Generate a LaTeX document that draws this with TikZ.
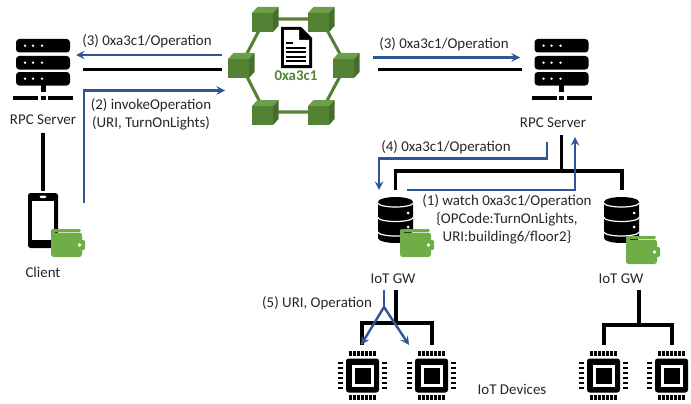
\documentclass[tikz,border=0pt]{standalone}
\usepackage{fontspec}
\setmainfont{Carlito}
\definecolor{arrowblue}{HTML}{2F5597}
\definecolor{cubegreen}{HTML}{548235}
\definecolor{cubetop}{HTML}{6B9F4A}
\definecolor{cubeside}{HTML}{466D2C}
\definecolor{walletgreen}{HTML}{70AD47}
\definecolor{labelgray}{HTML}{262626}
\tikzset{>=stealth}
\tikzset{
  label/.style={text=labelgray, font=\fontsize{11.2}{13.4}\selectfont, inner sep=0pt, align=center},
  wire/.style={line width=2.3pt, black},
  blueline/.style={line width=1.8pt, arrowblue},
  ringline/.style={line width=2.3pt, cubegreen},
  server/.pic={
    \foreach \y in {39,56,72} {
      \fill[black, rounded corners=2.5] (-27,\y) rectangle (27,\y+13.5);
      \foreach \x in {-18,-10,-1} \fill[white] (\x,\y+6.7) circle (1.3);
    }
    \fill[black] (-2.5,85) rectangle (2.5,92);
    \fill[black] (-30,95.5) rectangle (-5,100);
    \fill[black] (-2.5,95.5) rectangle (2.5,100);
    \fill[black] (5,95.5) rectangle (30,100);
  },
  wallet/.pic={
    \fill[walletgreen, rounded corners=2] (0,3.6) rectangle (31,28);
    \fill[walletgreen, rounded corners=1] (0,0) rectangle (30,2.8);
    \fill[walletgreen] (0,1) rectangle (4,6);
    \fill[walletgreen, rounded corners=1] (29,11) rectangle (34,21);
    \fill[white] (28.5,16) circle (1.8);
  },
  database/.pic={
    \fill[black] (-17.5,5) arc[start angle=180, end angle=360, x radius=17.5, y radius=5]
      -- (17.5,41) arc[start angle=0, end angle=180, x radius=17.5, y radius=5] -- cycle;
    \foreach \y in {6,20.5,35} \draw[white, line width=0.9pt] (-17.5,\y) arc[start angle=180, end angle=0, x radius=17.5, y radius=4];
    \foreach \y in {16,30} \fill[white] (12.5,\y) circle (1.5);
  },
  chip/.pic={
    \fill[black, rounded corners=2] (-16.5,-17) rectangle (16.5,17);
    \fill[white] (-11,-11) rectangle (11,11);
    \fill[black] (-8,-8) rectangle (8,8);
    \foreach \p in {-12,-8,-4,0,4,8,12} {
      \fill[black] (\p-1.3,-24.5) rectangle (\p+1.3,-19.5);
      \fill[black] (\p-1.3,19.5) rectangle (\p+1.3,24.5);
    }
    \foreach \p in {-12.5,-7.5,-2.5,2.5,7.5,12.5} {
      \fill[black] (-24.5,\p-1.4) rectangle (-19.5,\p+1.4);
      \fill[black] (19.5,\p-1.4) rectangle (24.5,\p+1.4);
    }
  },
  cube/.pic={
    \fill[cubegreen] (-13,-6) rectangle (8,13);
    \fill[cubetop] (-13,-6) -- (-7.5,-12) -- (13.5,-12) -- (8,-6) -- cycle;
    \fill[cubeside] (8,-6) -- (13.5,-12) -- (13.5,7) -- (8,13) -- cycle;
  },
}

\begin{document}
\begin{tikzpicture}[x=0.75pt, y=-0.75pt]
\useasboundingbox (0,0) rectangle (691,403);

% ledger ring
\coordinate (tl) at (265,19);
\coordinate (tr) at (321,19);
\coordinate (rr) at (346,65);
\coordinate (br) at (321,112);
\coordinate (bl) at (265,112);
\coordinate (ll) at (241,65);
\draw[ringline] (tl) -- (tr) -- (rr) -- (br) -- (bl) -- (ll) -- cycle;
\foreach \c in {tl,tr,rr,br,bl,ll} \pic at (\c) {cube};

% contract document
\fill[black] (281,27) -- (301,27) -- (312,38) -- (312,68) -- (281,68) -- cycle;
\fill[white] (284,30) -- (299,30) -- (299,40) -- (309,40) -- (309,65) -- (284,65) -- cycle;
\fill[black] (301,30) -- (309,38) -- (301,38) -- cycle;
\fill[black] (286,42) rectangle (293,44);
\foreach \y in {47,51.5,56,60} \fill[black] (286,\y) rectangle (306,\y+2);
\node[label, text=cubegreen, font=\fontsize{11.2}{13.4}\selectfont\bfseries] (addr) at (296,76) {0xa3c1};

% icons
\pic at (43,0) {server};
\pic at (561.5,0) {server};
\node[label] (rpcL) at (43,120) {RPC Server};
\node[label] (rpcR) at (553,123) {RPC Server};

% phone
\fill[black, rounded corners=2] (28,193) rectangle (58,248);
\fill[white] (32,201) rectangle (54,240);
\fill[white, rounded corners=1] (39.5,195.5) rectangle (46.5,198);
\pic at (51,229) {wallet};
\node[label] (client) at (43,272) {Client};

% gateways
\pic at (395.5,197) {database};
\pic at (621.5,197) {database};
\pic at (400,229) {wallet};
\pic at (626,236) {wallet};
\node[label] (gwL) at (393,279) {IoT GW};
\node[label] (gwR) at (621,279) {IoT GW};

% devices
\foreach \x in {362.5,431.5,603.5,671.5} \pic at (\x,375.5) {chip};
\node[label] (devices) at (512,389) {IoT Devices};

% black links
\coordinate (a1) at (43,133);
\coordinate (a2) at (43,191);
\draw[wire] (a1) -- (a2);
\coordinate (b1) at (83,69.5);
\coordinate (b2) at (222,69.5);
\draw[wire] (b1) -- (b2);
\coordinate (c1) at (378,69.5);
\coordinate (c2) at (522,69.5);
\draw[wire] (c1) -- (c2);
\coordinate (d1) at (561.5,135);
\coordinate (d2) at (561.5,171);
\coordinate (d3) at (395.5,190);
\coordinate (d4) at (622,190);
\draw[wire] (d1) -- (d2);
\draw[wire] (d3) -- (395.5,171) -- (622,171) -- (d4);
\coordinate (e1) at (396,290);
\coordinate (e2) at (396,323);
\coordinate (e3) at (362,345);
\coordinate (e4) at (432,345);
\draw[wire] (e1) -- (e2);
\draw[wire] (e3) -- (362,323) -- (432,323) -- (e4);
\coordinate (f1) at (639,290);
\coordinate (f2) at (639,325);
\coordinate (f3) at (604,345);
\coordinate (f4) at (672,345);
\draw[wire] (f1) -- (f2);
\draw[wire] (f3) -- (604,325) -- (672,325) -- (f4);

% blue messages
\coordinate (g1) at (222,55);
\coordinate (g2) at (76,55);
\draw[blueline, ->] (g1) -- (g2);
\node[label] (msgA) at (147,41) {(3) 0xa3c1/Operation};
\coordinate (h1) at (84,203);
\coordinate (h2) at (225,90.5);
\draw[blueline, ->] (h1) -- (84,90.5) -- (h2);
\node[label] (msgB) at (151,114) {(2) invokeOperation\\(URI, TurnOnLights)};
\coordinate (i1) at (373,57.5);
\coordinate (i2) at (520,57.5);
\draw[blueline, ->] (i1) -- (i2);
\node[label] (msgC) at (444,44) {(3) 0xa3c1/Operation};
\coordinate (j1) at (547,142);
\coordinate (j2) at (379,190);
\draw[blueline, ->] (j1) -- (547,158.5) -- (379,158.5) -- (j2);
\node[label] (msgD) at (446,147) {(4) 0xa3c1/Operation};
\coordinate (k1) at (407,190);
\coordinate (k2) at (575,137);
\draw[blueline, ->] (k1) -- (575,190) -- (k2);
\node[label] (msgE) at (507,219.5) {(1) watch 0xa3c1/Operation\\\{OPCode:TurnOnLights,\\URI:building6/floor2\}};
\coordinate (m1) at (384,290);
\coordinate (m2) at (384,307);
\coordinate (m3) at (361,345);
\coordinate (m4) at (409,345);
\draw[blueline] (m1) -- (m2);
\draw[blueline, ->] (m2) -- (m3);
\draw[blueline, ->] (m2) -- (m4);
\node[label] (msgF) at (317,303) {(5) URI, Operation};
\end{tikzpicture}
\end{document}
